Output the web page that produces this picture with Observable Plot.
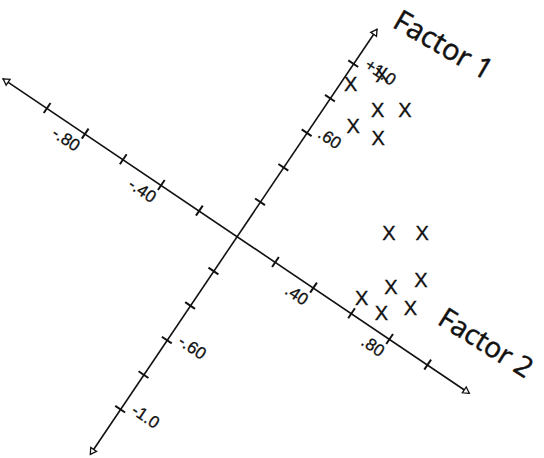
<!DOCTYPE html>
<html>
<head>
<meta charset="utf-8">
<script src="https://cdn.jsdelivr.net/npm/d3@7"></script>
<script src="https://cdn.jsdelivr.net/npm/@observablehq/plot@0.6"></script>
<style>
  html, body { margin: 0; padding: 0; background: #fff; }
  #chart svg { display: block; }
</style>
</head>
<body>
<div id="chart"></div>
<script>
// Rotated factor loadings for the variables
const factor2 = [0.04, 0.13, 0.20, 0.30, 0.15, 0.27, 0.54, 0.66, 0.68, 0.77, 0.60, 0.71, 0.80];
const factor1 = [0.91, 1.03, 0.88, 0.95, 0.75, 0.77, 0.42, 0.51, 0.21, 0.32, 0.09, 0.08, 0.18];

// Axis ticks and their labels
const tickValues = [-1, -0.8, -0.6, -0.4, -0.2, 0.2, 0.4, 0.6, 0.8, 1];
const factor2LabelValues = [-0.8, -0.4, 0.4, 0.8];
const factor2LabelText = ["-.80", "-.40", ".40", ".80"];
const factor1LabelValues = [-1, -0.6, 0.6, 1];
const factor1LabelText = ["-1.0", "-.60", ".60", "+1.0"];

// Extent of each axis line (arrow tips)
const factor2Extent = [-1.23, 1.22];
const factor1Extent = [-1.26, 1.2];

const axisTitles = ["Factor 1", "Factor 2"];

// Layout: the whole diagram is turned clockwise about the origin
const W = 544, H = 458;
const ROT = 34;
const ox = 237, oy = 236;      // origin in pixels
const sx = 229.5, sy = 208.4;  // pixels per unit loading

const ink = "#111";
const tickFont = "Liberation Sans, Arial, sans-serif";
const titleFont = "Open Sans, DejaVu Sans, sans-serif";
const idx = factor1.map((_, i) => i);

const arrowHead = (x, y, rotate, dx, dy) =>
  Plot.dot([0], {
    x: () => x, y: () => y, symbol: "triangle", r: 2.6,
    fill: "white", stroke: ink, strokeWidth: 1.3, rotate, dx, dy
  });

const plot = Plot.plot({
  width: W,
  height: H,
  margin: 0,
  style: { background: "white", overflow: "visible" },
  x: { domain: [-1, 1], range: [ox - sx, ox + sx], axis: null },
  y: { domain: [-1, 1], range: [oy + sy, oy - sy], axis: null },
  marks: [
    // axis lines
    Plot.ruleY([0], { y: d => d, x1: () => factor2Extent[0], x2: () => factor2Extent[1], stroke: ink, strokeWidth: 1.6 }),
    Plot.ruleX([0], { x: d => d, y1: () => factor1Extent[0], y2: () => factor1Extent[1], stroke: ink, strokeWidth: 1.6 }),
    // tick marks
    Plot.ruleX(tickValues, { x: d => d, y1: () => -0.029, y2: () => 0.029, stroke: ink, strokeWidth: 2 }),
    Plot.ruleY(tickValues, { y: d => d, x1: () => -0.026, x2: () => 0.026, stroke: ink, strokeWidth: 2 }),
    // arrow heads
    arrowHead(factor2Extent[1], 0, 90, -4, 0),
    arrowHead(factor2Extent[0], 0, -90, 4, 0),
    arrowHead(0, factor1Extent[1], 0, 0, 4),
    arrowHead(0, factor1Extent[0], 180, 0, -4),
    // tick labels
    Plot.text(factor2LabelValues, {
      x: d => d, y: () => 0, text: (d, i) => factor2LabelText[i],
      textAnchor: "end", lineAnchor: "middle", dx: 2, dy: 15,
      fontSize: 17, fontFamily: tickFont, fill: ink, stroke: ink, strokeWidth: 0.3
    }),
    Plot.text(factor1LabelValues, {
      x: () => 0, y: d => d, text: (d, i) => factor1LabelText[i],
      textAnchor: "start", lineAnchor: "middle", dx: 10, dy: -8,
      fontSize: 17, fontFamily: tickFont, fill: ink, stroke: ink, strokeWidth: 0.3
    }),
    // axis titles
    Plot.text([axisTitles[0]], {
      x: () => 0.045, y: () => 1.25, text: d => d,
      textAnchor: "start", lineAnchor: "bottom", rotate: -4,
      fontSize: 29, fontFamily: titleFont, fill: ink, stroke: ink, strokeWidth: 0.5
    }),
    Plot.text([axisTitles[1]], {
      x: () => 0.93, y: () => 0.19, text: d => d,
      textAnchor: "start", lineAnchor: "bottom", rotate: -2,
      fontSize: 28, fontFamily: titleFont, fill: ink, stroke: ink, strokeWidth: 0.5
    }),
    // variables, drawn upright
    Plot.text(idx, {
      x: i => factor2[i], y: i => factor1[i], text: () => "X",
      rotate: -ROT, lineAnchor: "middle",
      fontSize: 20, fontFamily: tickFont, fill: ink, stroke: ink, strokeWidth: 0.4
    })
  ]
});

// Turn the drawing about the origin so Factor 1 leans right and Factor 2 falls to the right
const cx = plot.scale("x").apply(0);
const cy = plot.scale("y").apply(0);
const group = document.createElementNS("http://www.w3.org/2000/svg", "g");
group.setAttribute("transform", `rotate(${ROT} ${cx} ${cy})`);
[...plot.children].forEach(el => {
  if (el.tagName.toLowerCase() !== "style") group.appendChild(el);
});
plot.appendChild(group);
plot.style.overflow = "hidden";

document.getElementById("chart").appendChild(plot);
</script>
</body>
</html>
